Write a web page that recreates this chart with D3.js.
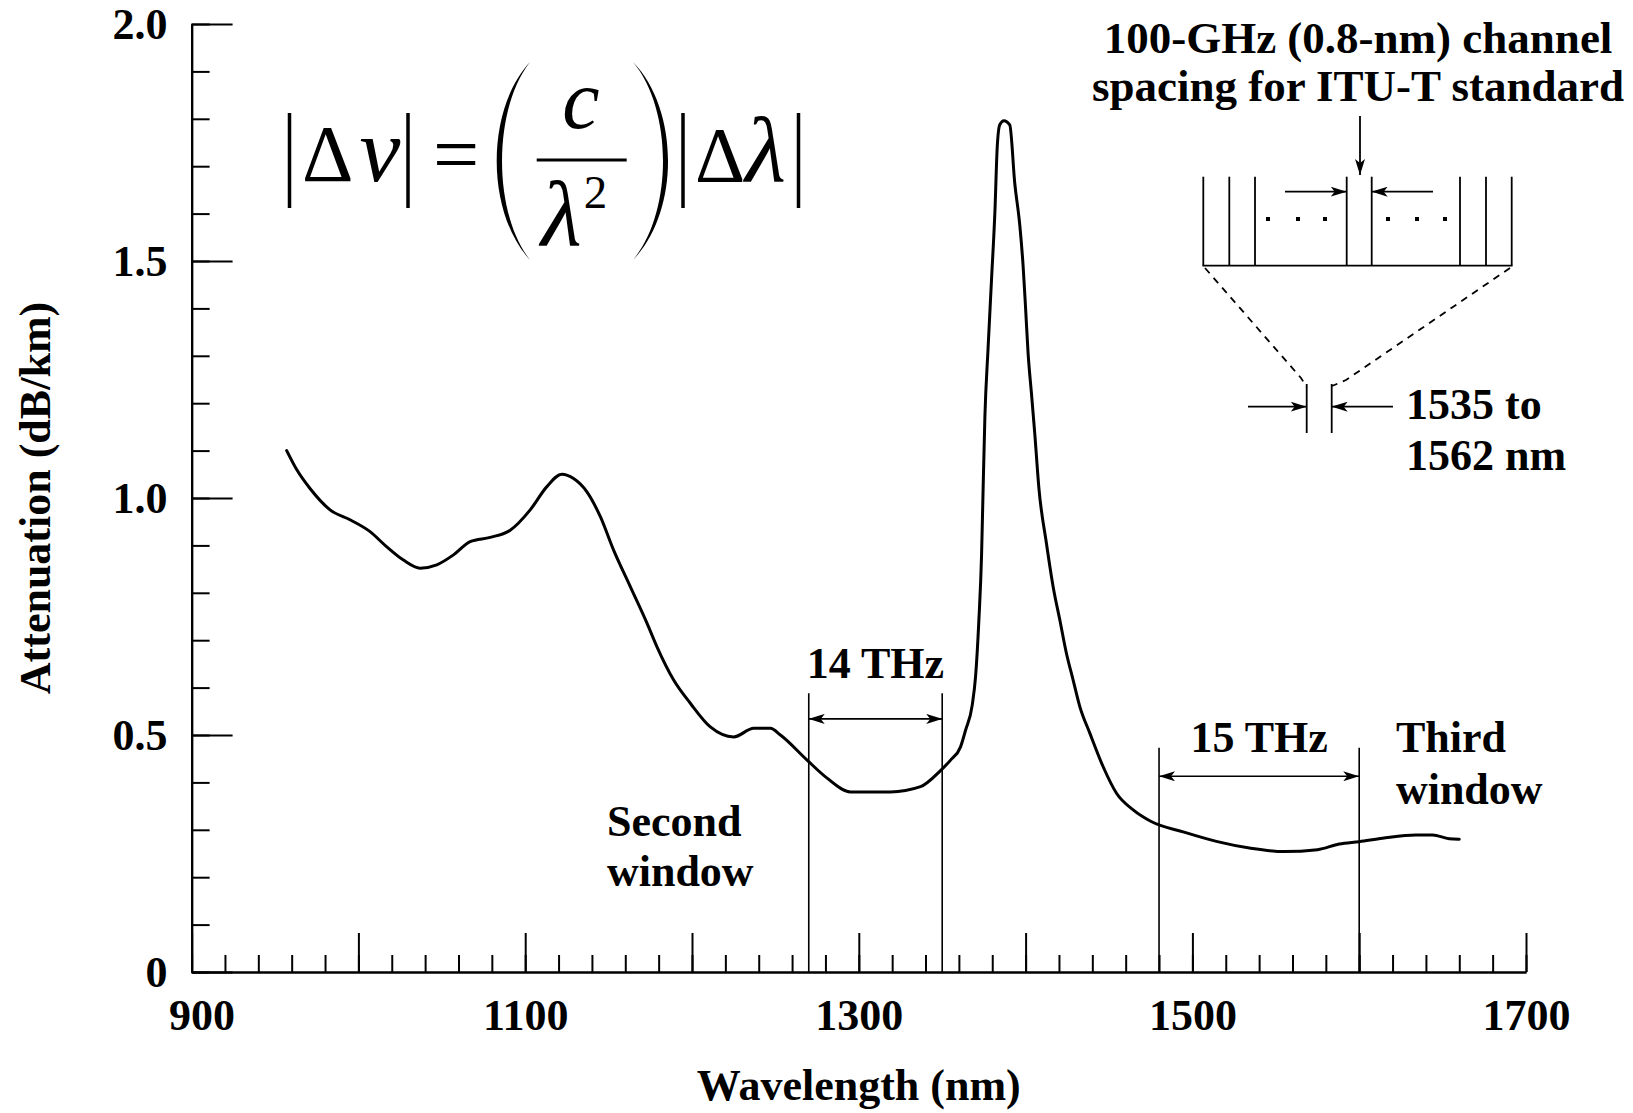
<!DOCTYPE html>
<html><head><meta charset="utf-8">
<script src="https://cdn.jsdelivr.net/npm/d3@7"></script>
<style>
body{margin:0;background:#fff}
svg{display:block}
text{font-family:"Liberation Serif","Times New Roman",serif;fill:#000}
</style>
</head><body>
<svg id="chart" width="1633" height="1113"></svg>
<script>
// ---- data ----
const wavelength = [957,963,971,983,995,1007,1017,1027,1037,1047,1057,1067,1079,1091,1103,1113,1122,1129,1137,1145,1153,1163,1173,1179,1189,1199,1211,1225,1237,1247,1253,1269,1281,1295,1319,1337,1349,1355,1361,1364,1368,1370,1372,1373.6,1374.4,1375.6,1377.5,1379.6,1381.6,1383,1384.5,1387,1390.5,1393.5,1396.5,1398.5,1400,1401.5,1403.5,1405.5,1408,1412.5,1416.5,1420.5,1424.5,1428.5,1432.5,1438.5,1446.5,1454.5,1464.5,1475,1495,1515,1535,1555,1575,1588,1600,1614,1634,1644,1654,1660];
const attenuation = [1.10,1.06,1.02,0.975,0.954,0.929,0.897,0.869,0.852,0.859,0.880,0.908,0.917,0.932,0.975,1.024,1.050,1.041,1.013,0.961,0.890,0.813,0.736,0.686,0.616,0.567,0.517,0.496,0.514,0.514,0.500,0.447,0.409,0.380,0.380,0.391,0.425,0.447,0.475,0.510,0.563,0.623,0.743,0.88,1.00,1.172,1.316,1.463,1.604,1.741,1.787,1.796,1.787,1.664,1.576,1.49,1.40,1.305,1.221,1.136,1.02,0.904,0.813,0.743,0.672,0.616,0.560,0.504,0.433,0.377,0.342,0.318,0.295,0.275,0.261,0.254,0.258,0.270,0.275,0.282,0.289,0.289,0.281,0.280];

const yMajorTicks = [0, 0.5, 1.0, 1.5, 2.0];
const yTickLabels = ["0", "0.5", "1.0", "1.5", "2.0"];
const yMinorTicks = d3.range(0, 2.0001, 0.1);
const xMajorTicks = [900, 1000, 1100, 1200, 1300, 1400, 1500, 1600, 1700];
const xTickLabels = [900, 1100, 1300, 1500, 1700];
const xMinorTicks = d3.range(900, 1700.1, 20);

const secondWindow = [1270, 1350];
const thirdWindow = [1480, 1600];
const secondWindowLabel = ["Second", "window"];
const thirdWindowLabel = ["Third", "window"];
const insetTitle = ["100-GHz (0.8-nm) channel", "spacing for ITU-T standard"];
const insetRange = ["1535 to", "1562 nm"];

// ---- scales ----
const svg = d3.select("#chart");
const x = d3.scaleLinear().domain([900, 1700]).range([191.6, 1526]);
const y = d3.scaleLinear().domain([0, 2]).range([972, 24]);

const defs = svg.append("defs");
defs.append("marker").attr("id", "ah")
  .attr("viewBox", "0 0 16 10").attr("refX", 16).attr("refY", 5)
  .attr("markerWidth", 16).attr("markerHeight", 10)
  .attr("markerUnits", "userSpaceOnUse").attr("orient", "auto-start-reverse")
  .append("path").attr("d", "M0,0 L16,5 L0,10 L4,5 Z").attr("fill", "#000");

function styleAxis(g) {
  g.selectAll("path.domain").attr("stroke", "#000").attr("stroke-width", 2.2);
  g.selectAll(".tick line").attr("stroke", "#000").attr("stroke-width", 2);
  g.selectAll("text").attr("font-family", '"Liberation Serif", serif')
    .attr("font-size", 44).attr("font-weight", "bold").attr("fill", "#000");
}

// x axis
const gxMin = svg.append("g").attr("transform", `translate(0,${y(0)})`)
  .call(d3.axisBottom(x).tickValues(xMinorTicks).tickSize(-17).tickSizeOuter(0).tickFormat(""));
styleAxis(gxMin);
const gx = svg.append("g").attr("transform", `translate(0,${y(0)})`)
  .call(d3.axisBottom(x).tickValues(xMajorTicks).tickSize(-39).tickSizeOuter(0).tickPadding(27)
    .tickFormat(d => xTickLabels.includes(d) ? String(d) : ""));
styleAxis(gx);
gx.selectAll(".tick text").filter(d => d === 900).attr("dx", 10);

// y axis
const gyMin = svg.append("g").attr("transform", `translate(${x(900)},0)`)
  .call(d3.axisLeft(y).tickValues(yMinorTicks).tickSize(-18).tickSizeOuter(0).tickFormat(""));
styleAxis(gyMin);
const gy = svg.append("g").attr("transform", `translate(${x(900)},0)`)
  .call(d3.axisLeft(y).tickValues(yMajorTicks).tickSize(-41).tickSizeOuter(0).tickPadding(24)
    .tickFormat((d, i) => yTickLabels[i]));
styleAxis(gy);

// axis titles
svg.append("text").attr("x", (x(900) + x(1700)) / 2).attr("y", 1100)
  .attr("text-anchor", "middle").attr("font-size", 44).attr("font-weight", "bold")
  .text("Wavelength (nm)");
svg.append("text").attr("transform", `translate(50,${(y(0) + y(2)) / 2}) rotate(-90)`)
  .attr("text-anchor", "middle").attr("font-size", 44).attr("font-weight", "bold")
  .text("Attenuation (dB/km)");

// curve
const pts = wavelength.map((w, i) => [w, attenuation[i]]);
svg.append("path").datum(pts)
  .attr("fill", "none").attr("stroke", "#000").attr("stroke-width", 3)
  .attr("stroke-linejoin", "round").attr("stroke-linecap", "round")
  .attr("d", d3.line().x(d => x(d[0])).y(d => y(d[1])).curve(d3.curveMonotoneX));

// windows
function windowMarks(range, topV, arrowV, label, labelV) {
  range.forEach(w => {
    svg.append("line").attr("x1", x(w)).attr("x2", x(w)).attr("y1", y(0)).attr("y2", y(topV))
      .attr("stroke", "#000").attr("stroke-width", 1.6);
  });
  svg.append("line").attr("x1", x(range[0])).attr("x2", x(range[1]))
    .attr("y1", y(arrowV)).attr("y2", y(arrowV))
    .attr("stroke", "#000").attr("stroke-width", 1.6)
    .attr("marker-start", "url(#ah)").attr("marker-end", "url(#ah)");
  svg.append("text").attr("x", x((range[0] + range[1]) / 2)).attr("y", y(labelV))
    .attr("text-anchor", "middle").attr("font-size", 44).attr("font-weight", "bold").text(label);
}
windowMarks(secondWindow, 0.588, 0.534, "14 THz", 0.620);
windowMarks(thirdWindow, 0.473, 0.413, "15 THz", 0.464);

function multiLine(lines, wl, v1, v2) {
  const t = svg.append("text").attr("font-size", 44).attr("font-weight", "bold");
  t.append("tspan").attr("x", x(wl)).attr("y", y(v1)).text(lines[0]);
  t.append("tspan").attr("x", x(wl)).attr("y", y(v2)).text(lines[1]);
}
multiLine(secondWindowLabel, 1149, 0.287, 0.181);
multiLine(thirdWindowLabel, 1622, 0.464, 0.354);

// ---- formula ----
const f = svg.append("g");
const bar = (bx) => f.append("line").attr("x1", bx).attr("x2", bx).attr("y1", 113).attr("y2", 208)
  .attr("stroke", "#000").attr("stroke-width", 3.5);
bar(289.5); bar(408); bar(683); bar(798.5);
const t1 = f.append("text").attr("x", 302).attr("y", 181);
t1.append("tspan").attr("font-size", 80).text("\u0394");
t1.append("tspan").attr("font-size", 92).attr("font-style", "italic").attr("dx", 6).text("\u03bd");
f.append("text").attr("x", 456).attr("y", 182).attr("text-anchor", "middle").attr("font-size", 82).text("=");
f.append("text").attr("x", 581).attr("y", 128).attr("text-anchor", "middle")
  .attr("font-size", 84).attr("font-style", "italic").text("c");
f.append("line").attr("x1", 536.7).attr("x2", 626.7).attr("y1", 160).attr("y2", 160)
  .attr("stroke", "#000").attr("stroke-width", 3);
const t2 = f.append("text").attr("x", 541).attr("y", 245);
t2.append("tspan").attr("font-size", 94).attr("font-style", "italic").text("\u03bb");
t2.append("tspan").attr("font-size", 47).attr("dy", -37).attr("dx", 2).text("2");
const t3 = f.append("text").attr("x", 695).attr("y", 181);
t3.append("tspan").attr("font-size", 78).text("\u0394");
t3.append("tspan").attr("font-size", 94).attr("font-style", "italic").text("\u03bb");
f.append("path").attr("d", "M530,62 C485.6,110 485.6,212 530,260 C492.7,212 492.7,110 530,62 Z").attr("fill", "#000");
f.append("path").attr("d", "M633,62 C679.7,110 679.7,212 633,260 C673,212 673,110 633,62 Z").attr("fill", "#000");

// ---- inset ----
const ins = svg.append("g").attr("stroke", "#000").attr("stroke-width", 1.8).attr("fill", "none");
const tt = svg.append("text").attr("text-anchor", "middle").attr("font-size", 45).attr("font-weight", "bold");
tt.append("tspan").attr("x", 1358).attr("y", 53).text(insetTitle[0]);
tt.append("tspan").attr("x", 1358).attr("y", 101).text(insetTitle[1]);
ins.append("line").attr("x1", 1360).attr("x2", 1360).attr("y1", 116).attr("y2", 175).attr("marker-end", "url(#ah)");
[1203.3, 1229.3, 1255, 1346.7, 1371.7, 1460, 1486, 1511.7].forEach(bx => {
  ins.append("line").attr("x1", bx).attr("x2", bx).attr("y1", 176.7).attr("y2", 265.7);
});
ins.append("line").attr("x1", 1202.5).attr("x2", 1512.5).attr("y1", 265.7).attr("y2", 265.7);
ins.append("line").attr("x1", 1285).attr("x2", 1346.7).attr("y1", 191.7).attr("y2", 191.7).attr("marker-end", "url(#ah)");
ins.append("line").attr("x1", 1433).attr("x2", 1371.7).attr("y1", 191.7).attr("y2", 191.7).attr("marker-end", "url(#ah)");
[1268, 1298, 1325, 1388, 1417, 1445].forEach(dx => {
  svg.append("rect").attr("x", dx - 2).attr("y", 217).attr("width", 4).attr("height", 4).attr("fill", "#000");
});
ins.append("path").attr("d", "M1205,268 L1301,378 L1306.7,387").attr("stroke-dasharray", "7,6");
ins.append("path").attr("d", "M1510,268 L1346,380 L1332,386").attr("stroke-dasharray", "7,6");
ins.append("line").attr("x1", 1306.7).attr("x2", 1306.7).attr("y1", 384).attr("y2", 433);
ins.append("line").attr("x1", 1331.7).attr("x2", 1331.7).attr("y1", 384).attr("y2", 433);
ins.append("line").attr("x1", 1248).attr("x2", 1306.7).attr("y1", 406.7).attr("y2", 406.7).attr("marker-end", "url(#ah)");
ins.append("line").attr("x1", 1393).attr("x2", 1331.7).attr("y1", 406.7).attr("y2", 406.7).attr("marker-end", "url(#ah)");
const rt = svg.append("text").attr("font-size", 44).attr("font-weight", "bold");
rt.append("tspan").attr("x", 1406).attr("y", 419).text(insetRange[0]);
rt.append("tspan").attr("x", 1406).attr("y", 470).text(insetRange[1]);
</script>
</body></html>
